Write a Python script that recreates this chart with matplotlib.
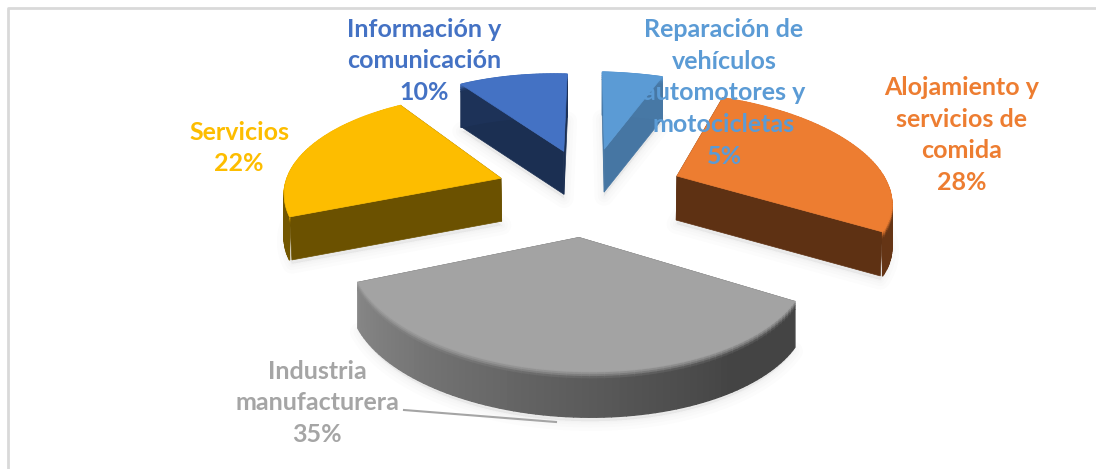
import numpy as np
import matplotlib
matplotlib.use("Agg")
import matplotlib.pyplot as plt
from matplotlib.collections import PolyCollection
from matplotlib.colors import to_rgb

# data, clockwise from 12 o'clock
labels = ["Reparación de\nvehículos\nautomotores y\nmotocicletas\n5%",
          "Alojamiento y\nservicios de\ncomida\n28%",
          "Industria\nmanufacturera\n35%",
          "Servicios\n22%",
          "Información y\ncomunicación\n10%"]
values = [5, 28, 35, 22, 10]

top_colors = ["#5b9bd5", "#ed7d31", "#a3a3a3", "#fdbd00", "#4472c4"]
cut_colors = ["#4676a3", "#5e3113", "#5a5a5a", "#6b5100", "#1b2f52"]
rim_start = ["#4676a3", "#5e3113", "#3f3f3f", "#6b5100", "#1b2f52"]
rim_end = ["#4676a3", "#5e3113", "#858585", "#6b5100", "#1b2f52"]
text_pos = [(724, 93), (962, 135), (317, 403), (239, 148), (424, 61)]

# fake 3d projection settings
cx, cy = 589, 188
sx, sy = 215, 101
persp = 0.162
tilt = 6
explode = 0.42

# small per slice corrections in pixels, the real chart is not a clean projection
nudge_x = [2, 6, -7, -2, 1]
nudge_y = [0, 1, 4, 3, 2]
width = [1.1, 1, 0.98, 1, 1]
height = [1, 1, 0.95, 1, 1]
depth = [43, 44, 46, 43, 43]


def project(X, Y):
    w = 1 + persp * Y
    return cx + sx * X / w, cy + (-sy * Y + tilt * X) / w


def lower(x, y, d):
    return cx + (x - cx) * 0.992, y + d


def blend(c1, c2, t):
    c1, c2 = np.array(to_rgb(c1)), np.array(to_rgb(c2))
    return tuple(c1 * (1 - t) + c2 * t)


fig = plt.figure(figsize=(10.96, 4.69), dpi=100)
ax = fig.add_axes([0, 0, 1, 1])
ax.set_xlim(0, 1096)
ax.set_ylim(469, 0)
ax.axis("off")

# chart frame, only top and left survive the crop
ax.plot([8, 8, 1096], [469, 8, 8], color="#d9d9d9", lw=2, zorder=1)

edges = np.radians(np.cumsum([0] + values) * 3.6)
bevel_t = [0, 0.04, 0.08, 0.12, 0.17, 1]
bevel_w = [0.95, 0.75, 0.5, 0.2, 0.05, 0]

for i in range(len(values)):
    a0, a1 = edges[i], edges[i + 1]
    mid = (a0 + a1) / 2
    ex, ey = explode * np.sin(mid), explode * np.cos(mid)
    th = np.linspace(a0, a1, 80)
    rx, ry = project(ex + np.sin(th), ey + np.cos(th))
    ax_, ay_ = project(ex, ey)
    rx = ax_ + (rx - ax_) * width[i] + nudge_x[i]
    ry = ay_ + (ry - ay_) * height[i] + nudge_y[i]
    ax_ = ax_ + nudge_x[i]
    ay_ = ay_ + nudge_y[i]
    d = depth[i]
    bx, by = lower(rx, ry, d)
    bax, bay = lower(ax_, ay_, d)

    # soft shadow under the slice
    shx = np.r_[bax, bx]
    shy = np.r_[bay, by] + 4
    for lw in [14, 9, 5, 2]:
        ax.fill(shx, shy, facecolor="#000000", edgecolor="#000000", alpha=0.012,
                lw=lw, joinstyle="round", zorder=2)

    # cut faces, before the rim and top so the hidden ones stay hidden
    for qx, qy in [(rx[0], ry[0]), (rx[-1], ry[-1])]:
        fx, fy = lower(qx, qy, d)
        ax.fill([ax_, qx, fx, bax], [ay_, qy, fy, bay], color=cut_colors[i], lw=0.5, zorder=3)

    # outer rim, shaded along the arc and lighter in the bevel at the top
    polys, cols = [], []
    for j in range(len(th) - 1):
        base = blend(rim_start[i], rim_end[i], min(1, max(0, (j / (len(th) - 2) - 0.2) / 0.8)))
        for k in range(len(bevel_t) - 1):
            t0, t1 = bevel_t[k], bevel_t[k + 1]
            polys.append([(rx[j], ry[j] + t0 * d), (rx[j + 1], ry[j + 1] + t0 * d),
                          (rx[j + 1], ry[j + 1] + t1 * d), (rx[j], ry[j] + t1 * d)])
            cols.append(blend(base, top_colors[i], bevel_w[k]))
    ax.add_collection(PolyCollection(polys, facecolors=cols, edgecolors=cols, lw=1.0, zorder=4))

    # top face
    ax.fill(np.r_[ax_, rx], np.r_[ay_, ry], color=top_colors[i], lw=0.5, zorder=5)

# leader line of the industria label
ax.plot([404, 556], [410, 422], color="#a5a5a5", lw=1.5, zorder=6)

for i in range(len(labels)):
    ax.text(text_pos[i][0], text_pos[i][1], labels[i], color=top_colors[i] if i != 2 else "#a5a5a5",
            family="Lato", weight="bold", fontsize=18, ha="center", va="center",
            linespacing=1.46, zorder=7)

fig.savefig("out.png", dpi=100)
